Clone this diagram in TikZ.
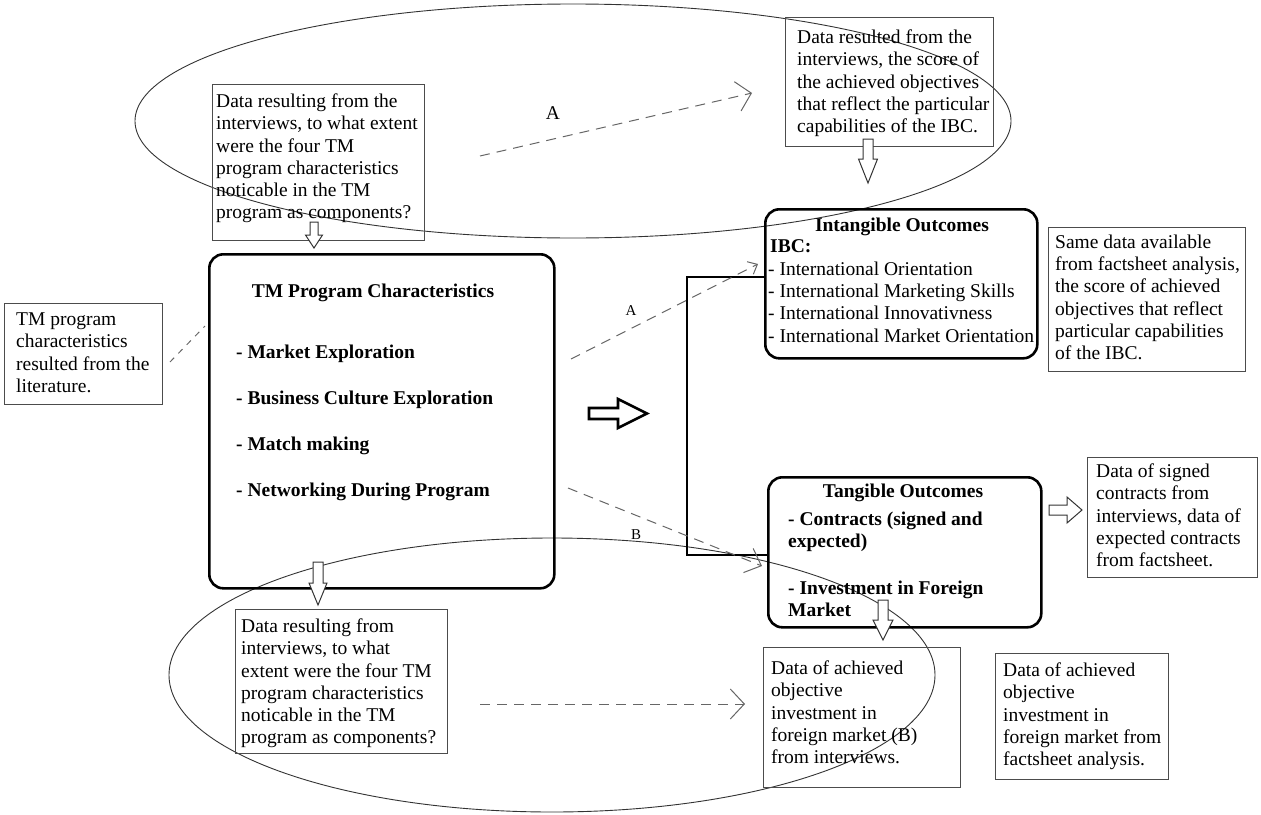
\documentclass[tikz,border=0pt]{standalone}
\usepackage{fontspec}
\setmainfont{Liberation Serif}
\usetikzlibrary{arrows.meta}
\begin{document}
\begin{tikzpicture}[x=1pt,y=-1pt,
  txt/.style={inner sep=0pt, anchor=north west, align=left, font=\fontsize{19.5}{22.3}\selectfont},
  btxt/.style={inner sep=0pt, anchor=north west, align=left, font=\fontsize{19.5}{22.3}\selectfont\bfseries},
  head/.style={inner sep=0pt, anchor=base, font=\fontsize{19.5}{22.3}\selectfont\bfseries},
  line1/.style={inner sep=0pt, anchor=base west, font=\fontsize{19.5}{22.3}\selectfont\bfseries},
  lbl/.style={inner sep=0pt, anchor=center, font=\fontsize{15}{18}\selectfont},
  databox/.style={draw=black!70, line width=1pt, anchor=north west, inner sep=0pt},
  bigbox/.style={draw=black, line width=2.6pt, rounded corners=14pt, anchor=north west, inner sep=0pt},
  dasharrow/.style={draw=black!60, line width=1pt, dash pattern=on 10pt off 7pt,
     -{Straight Barb[length=14pt,width=30pt,line width=1pt]}},
  dashline/.style={draw=black!60, line width=1pt, dash pattern=on 6pt off 6pt},
  ellipseline/.style={draw=black!80, line width=0.9pt},
  blockarrow/.style={draw=black!80, line width=1pt, fill=white},
  bigarrow/.style={draw=black, line width=2.6pt, fill=white, line join=miter}
]
\useasboundingbox (0,0) rectangle (1261,814);

% ellipses
\draw[ellipseline] (573,121) ellipse [x radius=438pt, y radius=117pt];
\draw[ellipseline] (552,675) ellipse [x radius=383pt, y radius=137pt];

% thin data boxes
\node[databox, minimum width=212pt, minimum height=156pt] (q1) at (212,84) {};
\node[txt] (q1t) at (216,93.5) {Data resulting from the\\interviews, to what extent\\were the four TM\\program characteristics\\noticable in the TM\\program as components?};

\node[databox, minimum width=208pt, minimum height=129pt] (q2) at (785,17) {};
\node[txt] (q2t) at (797,29.5) {Data resulted from the\\interviews, the score of\\the achieved objectives\\that reflect the particular\\capabilities of the IBC.};

\node[databox, minimum width=158pt, minimum height=101pt] (lit) at (4,303) {};
\node[txt] (litt) at (16,312.5) {TM program\\characteristics\\resulted from the\\literature.};

\node[databox, minimum width=197pt, minimum height=144pt] (same) at (1048,227) {};
\node[txt] (samet) at (1055,234.5) {Same data available\\from factsheet analysis,\\the score of achieved\\objectives that reflect\\particular capabilities\\of the IBC.};

\node[databox, minimum width=170pt, minimum height=120pt] (sign) at (1087,457) {};
\node[txt] (signt) at (1096,463.5) {Data of signed\\contracts from\\interviews, data of\\expected contracts\\from factsheet.};

\node[databox, minimum width=212pt, minimum height=144pt] (q3) at (235,609) {};
\node[txt] (q3t) at (241,618.5) {Data resulting from\\interviews, to what\\extent were the four TM\\program characteristics\\noticable in the TM\\program as components?};

\node[databox, minimum width=197pt, minimum height=140pt] (invb) at (763,647) {};
\node[txt] (invbt) at (771,660.5) {Data of achieved\\objective\\investment in\\foreign market (B)\\from interviews.};

\node[databox, minimum width=173pt, minimum height=126pt] (invf) at (995,653) {};
\node[txt] (invft) at (1003,662.5) {Data of achieved\\objective\\investment in\\foreign market from\\factsheet analysis.};

% big rounded boxes
\node[bigbox, minimum width=345pt, minimum height=334pt] (tm) at (208,253) {};
\node[head] (tmh) at (373,297) {TM Program Characteristics};
\node[line1] (tm1) at (236,358) {- Market Exploration};
\node[line1] (tm2) at (236,404) {- Business Culture Exploration};
\node[line1] (tm3) at (236,450) {- Match making};
\node[line1] (tm4) at (236,496) {- Networking During Program};

\node[bigbox, minimum width=272pt, minimum height=149pt] (intang) at (764,208) {};
\node[head] (intangh) at (902,231) {Intangible Outcomes};
\node[line1] (ibc) at (770,252) {IBC:};
\node[txt] (intangt) at (768,261.5) {- International Orientation\\- International Marketing Skills\\- International Innovativness\\- International Market Orientation};

\node[bigbox, minimum width=273pt, minimum height=150pt] (tang) at (767,476) {};
\node[head] (tangh) at (903,497) {Tangible Outcomes};
\node[btxt] (tang1) at (788,511.5) {- Contracts (signed and\\expected)};
\node[btxt] (tang2) at (788,580.5) {- Investment in Foreign\\Market};

% bracket
\coordinate (bt) at (687,277);
\coordinate (bb) at (687,555);
\draw[line width=2.6pt, line join=miter] (intang.west |- bt) -- (bt) -- (bb) -- (tang.west |- bb);

% big block arrow
\draw[bigarrow] (589,408) -- (618,408) -- (618,399) -- (647,413.5) -- (618,428) -- (618,419) -- (589,419) -- cycle;

% small block arrows
\draw[blockarrow] (310,222) -- (318,222) -- (318,235) -- (322.5,235) -- (314,248) -- (305.5,235) -- (310,235) -- cycle;
\draw[blockarrow] (863,139) -- (873,139) -- (873,159) -- (877.5,159) -- (868,183) -- (858.5,159) -- (863,159) -- cycle;
\draw[blockarrow] (313,562) -- (323,562) -- (323,583) -- (327,583) -- (318,605) -- (309,583) -- (313,583) -- cycle;
\draw[blockarrow] (878,600) -- (888,600) -- (888,620) -- (893,620) -- (883,640) -- (873,620) -- (878,620) -- cycle;
\draw[blockarrow] (1049,505) -- (1067,505) -- (1067,497) -- (1082,510) -- (1067,523) -- (1067,515) -- (1049,515) -- cycle;

% dashed connectors
\coordinate (a1s) at (480,156);
\coordinate (a1e) at (752,93);
\draw[dasharrow] (a1s) -- (a1e);
\node[inner sep=0pt, font=\fontsize{19.5}{22.3}\selectfont] (la1) at (553,113) {A};

\coordinate (a2s) at (571,359);
\coordinate (a2e) at (758,264);
\draw[dasharrow, -{Straight Barb[length=8pt,width=14pt,line width=1pt]}] (a2s) -- (a2e);
\node[lbl] (la2) at (631,311) {A};

\coordinate (bs) at (568,488);
\coordinate (be) at (762,566);
\draw[dasharrow, -{Straight Barb[length=14pt,width=26pt,line width=1pt]}] (bs) -- (be);
\node[lbl] (lb) at (636,535) {B};

\coordinate (cs) at (480,704);
\coordinate (ce) at (745,704);
\draw[dasharrow] (cs) -- (ce);

\coordinate (ls) at (170,362);
\coordinate (le) at (205,326);
\draw[dashline] (ls) -- (le);
\end{tikzpicture}
\end{document}
